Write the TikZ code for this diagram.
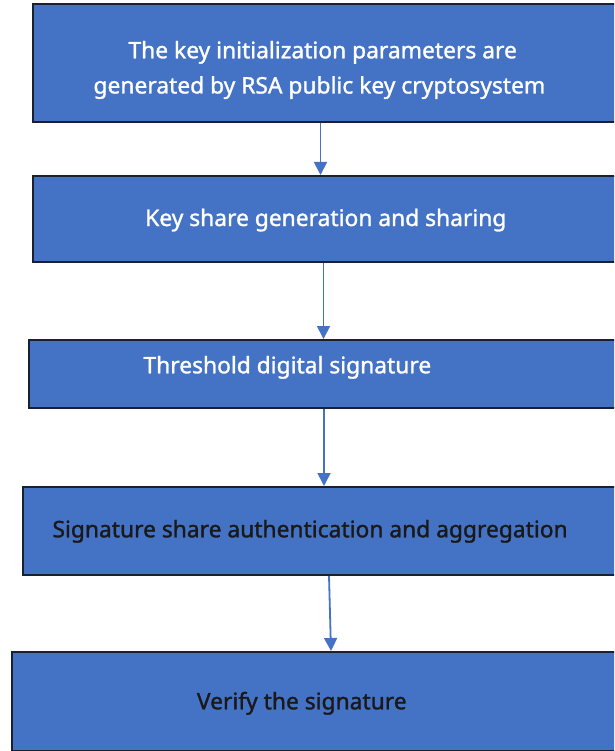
\documentclass[tikz,border=0pt]{standalone}
\usepackage{fontspec}
\setmainfont{Noto Sans}
\newfontfamily\labelfont{Noto Sans}[FakeBold=1.3]
\usetikzlibrary{arrows.meta}
\definecolor{boxblue}{HTML}{4472C4}
\definecolor{boxedge}{HTML}{17212F}
\definecolor{linkblue}{HTML}{4472C4}
\tikzset{
  stagebox/.style={draw=boxedge, line width=2pt, fill=boxblue, rectangle,
    inner sep=0pt, anchor=north west},
  lighttext/.style={anchor=base west, inner sep=0pt, text=white,
    font=\labelfont\fontsize{22.8}{26}\selectfont},
  darktext/.style={anchor=base west, inner sep=0pt, text=black!90,
    font=\labelfont\fontsize{22.8}{26}\selectfont},
  flow/.style={draw=linkblue, line width=1.8pt,
    -{Triangle[width=13pt,length=13pt]}}
}
\begin{document}
\begin{tikzpicture}[x=1pt,y=-1pt]
\useasboundingbox (0,0) rectangle (614,751);
\clip (0,0) rectangle (614,751);
% process stages, each running off the right edge
\node[stagebox, minimum width=590pt, minimum height=118pt] (b1) at (32,3) {};
\node[stagebox, minimum width=590pt, minimum height=86pt]  (b2) at (32,175) {};
\node[stagebox, minimum width=594pt, minimum height=68pt]  (b3) at (28,339) {};
\node[stagebox, minimum width=600pt, minimum height=88pt]  (b4) at (22,486) {};
\node[stagebox, minimum width=611pt, minimum height=99pt]  (b5) at (11,651) {};
% labels
\node[lighttext] (t1a) at (128.3,58.3) {The key initialization parameters are};
\node[lighttext] (t1b) at (93.3,93.5) {generated by RSA public key cryptosystem};
\node[lighttext] (t2) at (145,226) {Key share generation and sharing};
\node[lighttext] (t3) at (143.3,373.3) {Threshold digital signature};
\node[darktext] (t4) at (52.3,537.3) {Signature share authentication and aggregation};
\node[darktext] (t5) at (196.7,709.3) {Verify the signature};
% connector end points on the box borders
\coordinate (a1s) at (b1.south west -| 320.5,0);
\coordinate (a1e) at (b2.north west -| 320.5,0);
\coordinate (a2s) at (b2.south west -| 323.5,0);
\coordinate (a2e) at (b3.north west -| 323.5,0);
\coordinate (a3s) at (b3.south west -| 324,0);
\coordinate (a3e) at (b4.north west -| 324,0);
\coordinate (a4s) at (b4.south west -| 329,0);
\coordinate (a4e) at (b5.north west -| 331,0);
\draw[flow] (a1s) -- (a1e);
\draw[flow] (a2s) -- (a2e);
\draw[flow] (a3s) -- (a3e);
\draw[flow] (a4s) -- (a4e);
\end{tikzpicture}
\end{document}
